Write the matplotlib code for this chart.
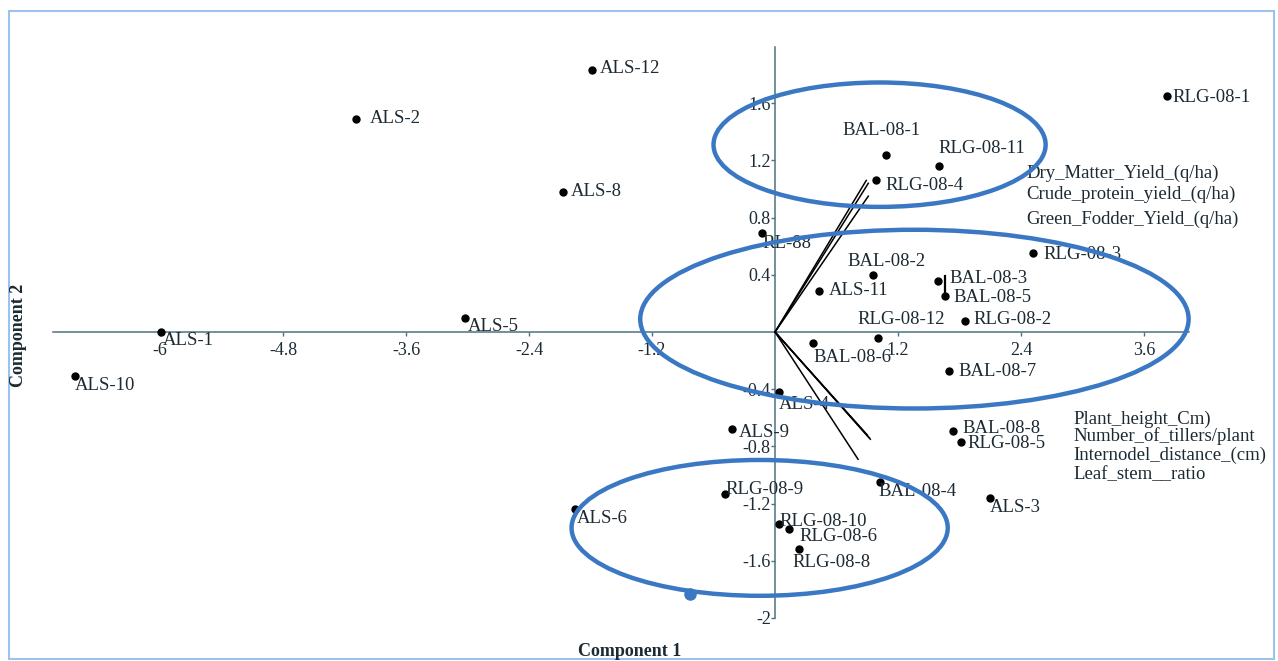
import numpy as np
import matplotlib
matplotlib.use("Agg")
import matplotlib.pyplot as plt
from matplotlib.patches import Ellipse, Rectangle

# PCA scores (component 1, component 2)
names = ["ALS-12", "ALS-2", "ALS-8", "RL-88", "ALS-5", "ALS-1", "ALS-10", "ALS-11",
         "BAL-08-2", "BAL-08-3", "BAL-08-5", "RLG-08-12", "RLG-08-2", "RLG-08-3",
         "RLG-08-1", "BAL-08-1", "RLG-08-11", "RLG-08-4", "BAL-08-6", "BAL-08-7",
         "ALS-4", "ALS-9", "BAL-08-8", "RLG-08-5", "BAL-08-4", "ALS-3", "RLG-08-9",
         "RLG-08-10", "RLG-08-6", "RLG-08-8", "ALS-6"]
pc1 = [-1.79, -4.09, -2.07, -0.13, -3.02, -5.99, -6.83, 0.43,
       0.96, 1.59, 1.66, 1.00, 1.85, 2.52,
       3.82, 1.08, 1.60, 0.99, 0.37, 1.70,
       0.04, -0.42, 1.74, 1.81, 1.02, 2.10, -0.49,
       0.04, 0.14, 0.23, -1.95]
pc2 = [1.83, 1.49, 0.98, 0.69, 0.10, 0.00, -0.31, 0.29,
       0.40, 0.36, 0.25, -0.04, 0.08, 0.55,
       1.65, 1.24, 1.16, 1.06, -0.08, -0.27,
       -0.42, -0.68, -0.69, -0.77, -1.05, -1.16, -1.13,
       -1.34, -1.38, -1.52, -1.24]

# label offsets from the point, in pixels (right, down)
label_off = [(8, -2), (14, 0), (8, 0), (1, 10), (2, 9), (2, 8), (0, 9), (10, 0),
             (-26, -13), (11, -2), (8, 1), (-20, -18), (9, -1), (10, 1),
             (6, 1), (-43, -24), (-1, -18), (9, 5), (1, 14), (9, 1),
             (0, 12), (7, 3), (9, -2), (7, 1), (-1, 9), (0, 10), (1, -4),
             (0, -2), (10, 7), (-6, 13), (2, 9)]

# variable loadings (biplot vectors)
var_names = ["Dry_Matter_Yield_(q/ha)", "Crude_protein_yield_(q/ha)", "Green_Fodder_Yield_(q/ha)",
             "Plant_height_Cm)", "Number_of_tillers/plant", "Internodel_distance_(cm)", "Leaf_stem__ratio"]
load1 = [0.89, 0.91, 0.91, 0.92, 0.90, 0.93, 0.81]
load2 = [1.06, 1.04, 0.95, -0.74, -0.72, -0.75, -0.89]
var_label_pos = [(2.45, 1.11), (2.45, 0.96), (2.45, 0.79),
                 (2.91, -0.61), (2.91, -0.73), (2.91, -0.86), (2.91, -1.00)]

# groups circled on the plot: centre x, centre y, width, height
groups = [(1.02, 1.31, 3.24, 0.87),
          (1.36, 0.09, 5.35, 1.25),
          (-0.15, -1.37, 3.67, 0.95)]

xticks = [-6, -4.8, -3.6, -2.4, -1.2, 1.2, 2.4, 3.6]
yticks = [-2, -1.6, -1.2, -0.8, -0.4, 0.4, 0.8, 1.2, 1.6]

txt = "#1c2a33"
axc = "#4a7383"
blue = "#3a78c4"
font = "Liberation Serif"

fig = plt.figure(figsize=(12.78, 6.61), dpi=100)
ax = fig.add_axes([0, 0, 1, 1])
ax.set_xlim(-7.561, 4.907)
ax.set_ylim(-2.301, 2.322)

for s in ["top", "right"]:
    ax.spines[s].set_visible(False)
ax.spines["left"].set_position(("data", 0))
ax.spines["bottom"].set_position(("data", 0))
ax.spines["left"].set_bounds(-2, 1.99)
ax.spines["bottom"].set_bounds(-7.04, 4.04)
for s in ["left", "bottom"]:
    ax.spines[s].set_color(axc)
    ax.spines[s].set_linewidth(1.1)
ax.set_facecolor("none")

ax.set_xticks(xticks)
ax.set_xticklabels([f"{v:g}" for v in xticks])
ax.set_yticks(yticks)
ax.set_yticklabels([f"{v:g}" for v in yticks])
ax.tick_params(axis="x", direction="out", length=3, width=1, color=axc, pad=4,
               labelsize=13, labelcolor=txt)
ax.tick_params(axis="y", direction="out", length=3, width=1, color=axc, pad=0,
               labelsize=13, labelcolor=txt)
for lab in ax.get_xticklabels() + ax.get_yticklabels():
    lab.set_fontfamily(font)

# loading vectors
for i in range(len(var_names)):
    ax.plot([0, load1[i]], [0, load2[i]], color="black", lw=1.1, zorder=3)
    ax.text(var_label_pos[i][0], var_label_pos[i][1], var_names[i], family=font,
            fontsize=13.5, color=txt, va="center", ha="left")

# short marker joining BAL-08-3 and BAL-08-5
i3, i5 = names.index("BAL-08-3"), names.index("BAL-08-5")
ax.plot([pc1[i5], pc1[i5]], [pc2[i5], pc2[i3] + 0.03], color="black", lw=1.6, zorder=3)

# scores
ax.plot(pc1, pc2, "o", color="black", ms=5, zorder=4)
for i, n in enumerate(names):
    dx, dy = label_off[i]
    ax.annotate(n, (pc1[i], pc2[i]), xytext=(dx, -dy), textcoords="offset pixels",
                family=font, fontsize=13.5, color=txt, ha="left", va="center", zorder=5)

# circled groups
for cx, cy, w, h in groups:
    ax.add_patch(Ellipse((cx, cy), w, h, fill=False, edgecolor=blue, lw=3.2, zorder=6))
ax.plot([-0.83], [-1.83], "o", color=blue, ms=8, zorder=6)

fig.text(630 / 1278, 1 - 651 / 661, "Component 1", family=font, fontsize=13,
         fontweight="bold", color=txt, ha="center", va="center")
fig.text(19 / 1278, 1 - 335 / 661, "Component 2", family=font, fontsize=13,
         fontweight="bold", color=txt, ha="center", va="center", rotation=90)

fig.patches.append(Rectangle((9 / 1278, 1 - 659 / 661), 1265 / 1278, 648 / 661,
                             transform=fig.transFigure, fill=False,
                             edgecolor="#9cc3ec", lw=1.5))

fig.savefig("out.png", dpi=100)
